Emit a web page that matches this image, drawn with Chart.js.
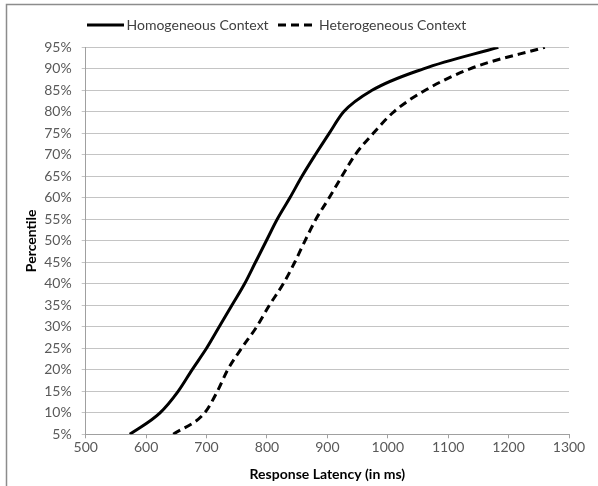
<!DOCTYPE html>
<html>
<head>
<meta charset="utf-8">
<script src="https://cdn.jsdelivr.net/npm/chart.js@4.4.1/dist/chart.umd.min.js"></script>
<style>
  html, body { margin: 0; padding: 0; background: #fff; }
  #wrap { position: relative; width: 598px; height: 486px; }
</style>
</head>
<body>
<div id="wrap"><canvas id="chart" width="598" height="486"></canvas></div>
<script>
// percentile levels (y) and response latency in ms (x)
const percentiles = [5, 10, 15, 20, 25, 30, 35, 40, 45, 50, 55, 60, 65, 70, 75, 80, 85, 90, 95];
const homogeneous = [573, 623, 653, 676, 700, 721, 742, 763, 781, 799, 817, 838, 858, 880, 903, 927, 974, 1059, 1183];
const heterogeneous = [645, 697, 718, 735, 758, 783, 804, 827, 846, 863, 881, 903, 924, 946, 976, 1010, 1062, 1136, 1260];
const seriesNames = ["Homogeneous Context", "Heterogeneous Context"];

const FONT = "Lato, 'Open Sans', sans-serif";
const AREA = {left: 85.7, right: 569, top: 47.3, bottom: 434.3};

function toPoints(xs){
  return xs.map((x, i) => ({x: x, y: percentiles[i]}));
}

// frame + legend drawn on the canvas
const decor = {
  id: "decor",
  beforeDraw(chart){
    const ctx = chart.ctx;
    ctx.save();
    ctx.fillStyle = "#fff";
    ctx.fillRect(0, 0, chart.width, chart.height);
    ctx.strokeStyle = "#8c8c8c";
    ctx.lineWidth = 1.5;
    ctx.strokeRect(6.5, 4.5, chart.width + 10, chart.height + 10);
    ctx.restore();
  },
  afterDraw(chart){
    const ctx = chart.ctx;
    const items = [{x0: 87, x1: 124, tx: 126.5}, {x0: 278, x1: 317, tx: 319}];
    ctx.save();
    chart.data.datasets.forEach((ds, i) => {
      const it = items[i];
      ctx.strokeStyle = "#000";
      ctx.lineWidth = 3;
      ctx.setLineDash(ds.borderDash || []);
      ctx.beginPath();
      ctx.moveTo(it.x0, 25);
      ctx.lineTo(it.x1, 25);
      ctx.stroke();
      ctx.setLineDash([]);
      ctx.fillStyle = "#404040";
      ctx.font = "14px " + FONT;
      ctx.textBaseline = "middle";
      ctx.fillText(ds.label, it.tx, 25);
    });
    ctx.restore();
  }
};

new Chart(document.getElementById("chart"), {
  type: "line",
  data: {
    datasets: [
      {label: seriesNames[0], data: toPoints(homogeneous), borderColor: "#000", borderWidth: 3,
       pointRadius: 0, tension: 0.4, cubicInterpolationMode: "monotone", fill: false},
      {label: seriesNames[1], data: toPoints(heterogeneous), borderColor: "#000", borderWidth: 3,
       borderDash: [8, 5], pointRadius: 0, tension: 0.4, cubicInterpolationMode: "monotone", fill: false}
    ]
  },
  options: {
    responsive: false,
    animation: false,
    layout: {padding: {left: 8, right: 598 - AREA.right, top: AREA.top, bottom: 0}},
    plugins: {legend: {display: false}, tooltip: {enabled: false}},
    scales: {
      x: {
        type: "linear", min: 500, max: 1300,
        ticks: {stepSize: 100, color: "#595959", padding: 1, font: {family: FONT, size: 14},
                callback: v => String(v)},
        grid: {display: true, drawOnChartArea: false, tickLength: 4, color: "#a0a0a0"},
        border: {color: "#a0a0a0"},
        title: {display: true, text: "Response Latency (in ms)", color: "#000",
                font: {family: FONT, size: 14, weight: "bold"}, padding: {top: 0, bottom: 3}},
        afterFit(s){ s.height = 486 - AREA.bottom; }
      },
      y: {
        type: "linear", min: 5, max: 95,
        ticks: {stepSize: 5, color: "#595959", padding: 10, font: {family: FONT, size: 14},
                callback: v => v + "%"},
        grid: {color: "#c4c4c4", tickLength: 4, lineWidth: 1},
        border: {color: "#a0a0a0"},
        title: {display: true, text: "Percentile", color: "#000",
                font: {family: FONT, size: 14, weight: "bold"}, padding: {top: 15, bottom: 0}},
        afterFit(s){ s.width = AREA.left - 8; }
      }
    }
  },
  plugins: [decor]
});
</script>
</body>
</html>
